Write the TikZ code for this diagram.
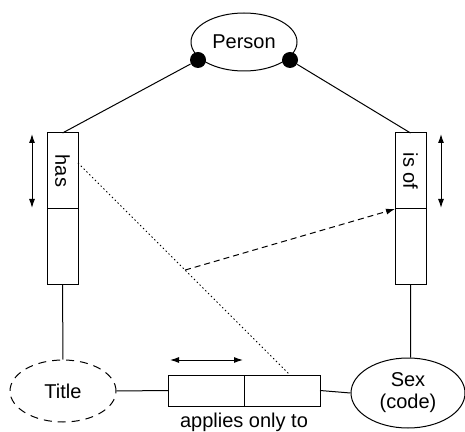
\documentclass[tikz,border=0pt]{standalone}
\usepackage{fontspec}
\setmainfont{Liberation Sans}
\usetikzlibrary{shapes.geometric, positioning, arrows.meta, calc}

\begin{document}
\begin{tikzpicture}[x=0.5pt,y=-0.5pt,>={Latex[length=4.5pt,width=3pt]},semithick,line width=0.5pt,
    font=\fontsize{10}{11}\selectfont,
    entity/.style={ellipse,draw,inner sep=0pt},
    rolebox/.style={rectangle,draw,outer sep=0pt,inner sep=0pt,minimum width=15.5pt,minimum height=38pt},
    appbox/.style={rectangle,draw,outer sep=0pt,inner sep=0pt,minimum width=38pt,minimum height=15.5pt},
    joint/.style={circle,fill,inner sep=0pt,minimum size=8pt}]
      \useasboundingbox (0,0) rectangle (465,432);

      \node[entity,minimum width=53pt,minimum height=29pt] (person) at (244,42) {Person};
      \node[joint] (jl) at (198,60) {};
      \node[joint] (jr) at (290,60) {};

      \node[rolebox] (has1) at (62.5,171) {\rotatebox{-90}{has}};
      \node[rolebox] (has2) [below=0pt of has1] {};
      \node[rolebox] (isof1) at (410.5,171) {\rotatebox{-90}{is of}};
      \node[rolebox] (isof2) [below=0pt of isof1] {};

      \node[entity,dash pattern=on 4pt off 3pt,minimum width=53pt,minimum height=31pt] (title) at (63,391) {Title};
      \node[entity,minimum width=57pt,minimum height=35pt,align=center] (sex) at (408,393) {Sex\\(code)};

      \node[appbox] (app1) at (206,390.5) {};
      \node[appbox] (app2) [right=0pt of app1] {};
      \node (applies) [below=0pt of app1.south east] {applies only to};

      % role arrows
      \coordinate (hasup) at (32,134);
      \coordinate (hasdn) at (32,208);
      \coordinate (isofup) at (441,134);
      \coordinate (isofdn) at (441,208);
      \coordinate (appl) at (170,360);
      \coordinate (appr) at (243,360);
      \draw[<->] (hasup) -- (hasdn);
      \draw[<->] (isofup) -- (isofdn);
      \draw[<->] (appl) -- (appr);

      \draw (jl) -- (has1.north)
            (jr) -- (isof1.north)
            (has2.south) -- (title.north)
            (isof2.south) -- (isof2.south |- sex.north)
            (title.east) -- (app1.west)
            (app2.east) -- (sex.west);

      \coordinate (dotstart) at (78,163);
      \draw[dash pattern=on 0.7pt off 1.3pt] (dotstart) -- coordinate[pos=0.505] (mid) ($(app2.north)+(8,0)$);
      \draw[dash pattern=on 3pt off 2pt,->] (mid) -- (isof1.south west);
\end{tikzpicture}
\end{document}
